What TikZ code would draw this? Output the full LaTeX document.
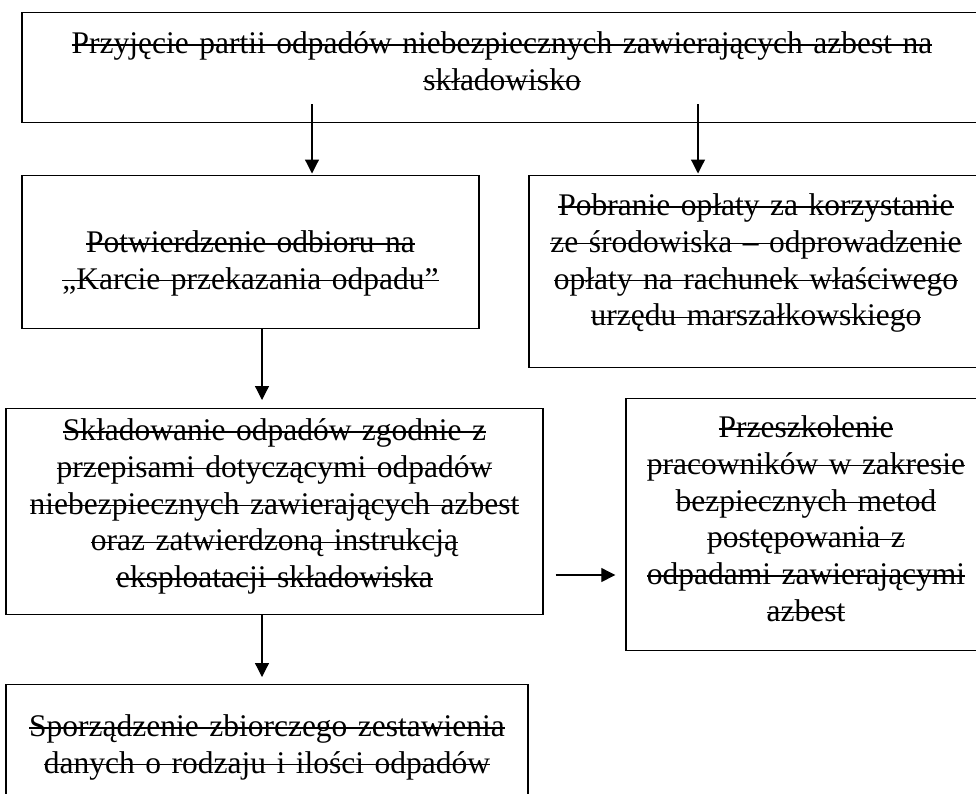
\documentclass[tikz,border=0pt]{standalone}
\usepackage{fontspec}
\setmainfont{Liberation Serif}
\usetikzlibrary{arrows.meta}
\newsavebox{\strkbox}
\newcommand{\strk}[1]{\leavevmode\sbox{\strkbox}{#1}\rlap{\rule[8pt]{\wd\strkbox}{1.3pt}}\usebox{\strkbox}}

\begin{document}
\begin{tikzpicture}[x=1pt,y=-1pt,
  box/.style={draw, line width=1.4pt, inner sep=0pt, anchor=north, align=center,
    font=\fontsize{31.5}{36.7}\selectfont},
  flow/.style={line width=1.2pt, -{Triangle[width=14pt,length=14pt]}}]

  % Page
  \useasboundingbox (0,0) rectangle (976,793);
  \clip (0,0) rectangle (976,793);

  % Drop lines of the arrows
  \coordinate (leftdrop) at (312,0);
  \coordinate (rightdrop) at (698,0);
  \coordinate (maindrop) at (262,0);
  \coordinate (sidelevel) at (0,575);

  % Boxes
  \node[box, text width=960pt, text height=41pt, text depth=69pt] (intake) at (502,12)
    {\strk{Przyjęcie partii odpadów niebezpiecznych zawierających azbest na}\\
     \strk{składowisko}};
  \node[box, text width=457pt, text height=77pt, text depth=76pt] (conf) at (250.5,175)
    {\strk{Potwierdzenie odbioru na}\\
     \strk{„Karcie przekazania odpadu”}};
  \node[box, text width=454pt, text height=40pt, text depth=152pt] (fee) at (756,175)
    {\strk{Pobranie opłaty za korzystanie}\\
     \strk{ze środowiska – odprowadzenie}\\
     \strk{opłaty na rachunek właściwego}\\
     \strk{urzędu marszałkowskiego}};
  \node[box, text width=537pt, text height=32pt, text depth=174pt] (store) at (274.5,408)
    {\strk{Składowanie odpadów zgodnie z}\\
     \strk{przepisami dotyczącymi odpadów}\\
     \strk{niebezpiecznych zawierających azbest}\\
     \strk{oraz zatwierdzoną instrukcją}\\
     \strk{eksploatacji składowiska}};
  \node[box, text width=360pt, text height=39pt, text depth=213pt] (train) at (806,398)
    {\strk{Przeszkolenie}\\
     \strk{pracowników w zakresie}\\
     \strk{bezpiecznych metod}\\
     \strk{postępowania z}\\
     \strk{odpadami zawierającymi}\\
     \strk{azbest}};
  \node[box, text width=522pt, text height=52pt, text depth=94pt] (report) at (267,684)
    {\strk{Sporządzenie zbiorczego zestawienia}\\
     \strk{danych o rodzaju i ilości odpadów}};

  % Arrows
  \draw[flow, shorten <=-19pt, shorten >=1.5pt] (intake.south -| leftdrop) -- (conf.north -| leftdrop);
  \draw[flow, shorten <=-19pt, shorten >=1.5pt] (intake.south -| rightdrop) -- (fee.north -| rightdrop);
  \draw[flow, shorten >=8pt] (conf.south -| maindrop) -- (store.north -| maindrop);
  \draw[flow, shorten >=7pt] (store.south -| maindrop) -- (report.north -| maindrop);
  \draw[flow, shorten <=12pt, shorten >=10pt] (store.east |- sidelevel) -- (train.west |- sidelevel);

\end{tikzpicture}
\end{document}
